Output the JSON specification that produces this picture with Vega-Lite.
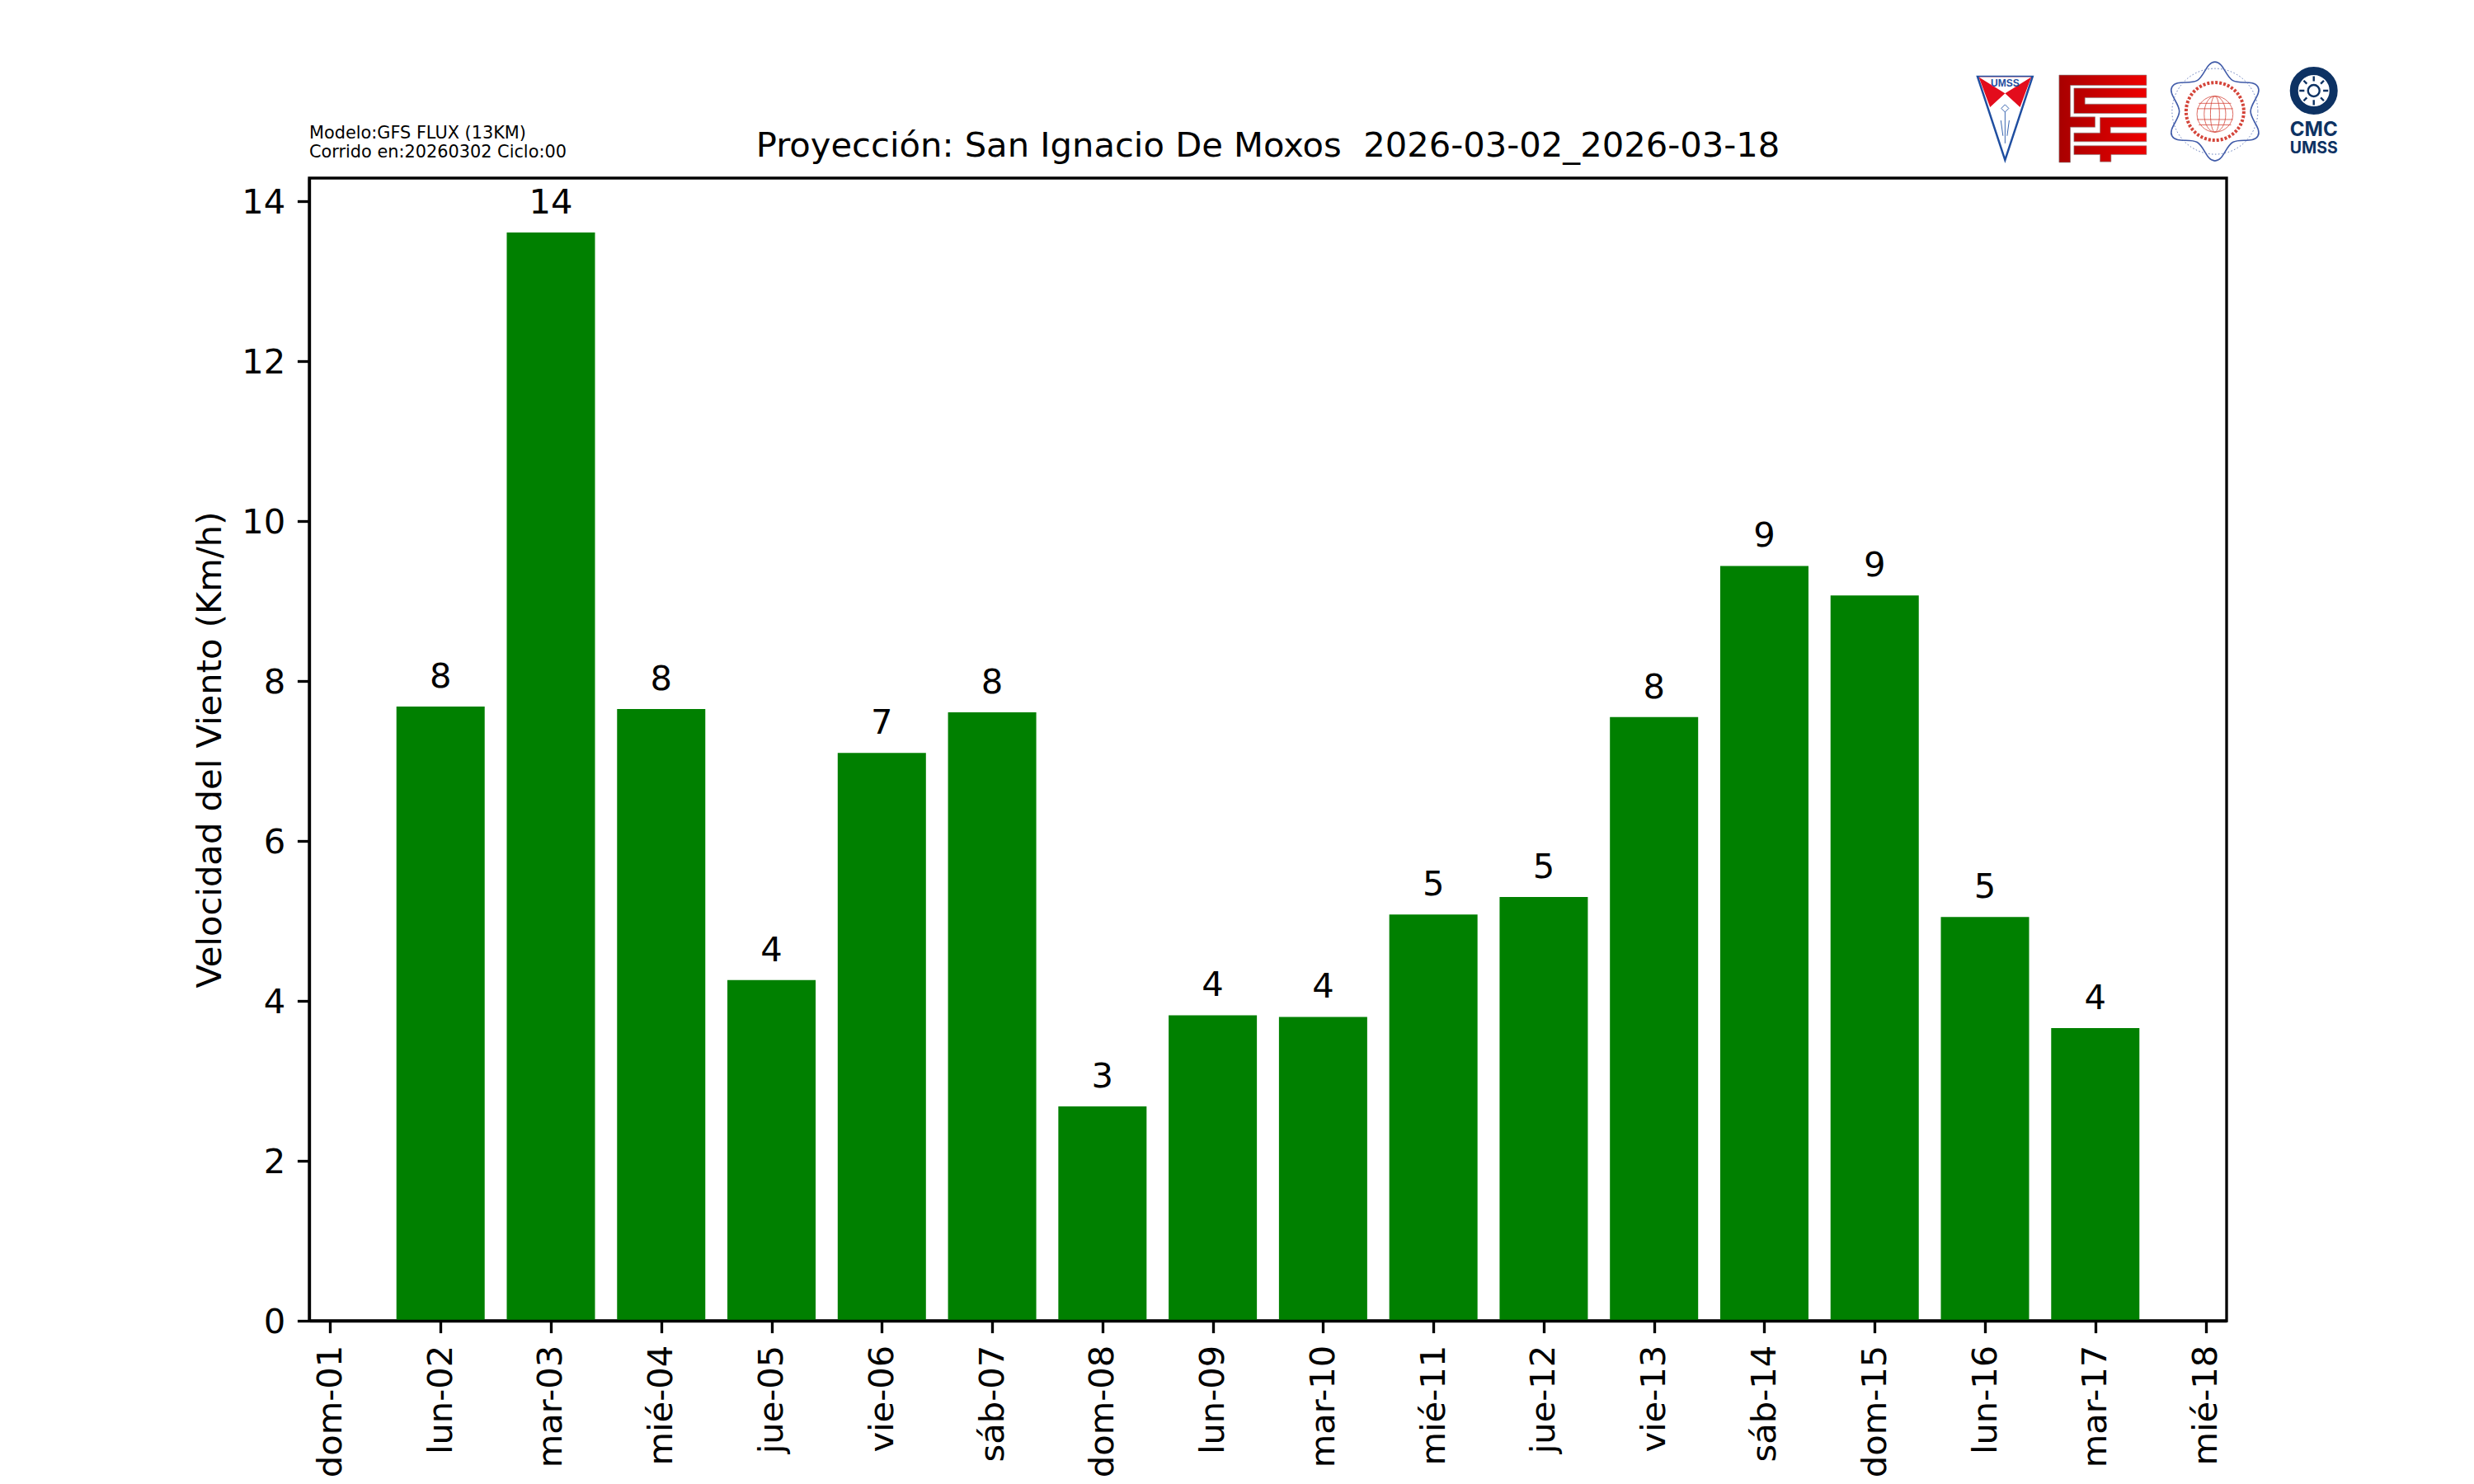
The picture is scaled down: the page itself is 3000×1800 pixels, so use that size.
{
"$schema":"https://vega.github.io/schema/vega-lite/v6.json",
"width":2325,"height":1386,
"autosize":{"type":"none"},
"padding":{"left":375,"top":216,"right":300,"bottom":198},
"background":"white",
"title":{"text":"Proyección: San Ignacio De Moxos\u00a0 2026-03-02_2026-03-18","font":"DejaVu Sans","fontSize":41.67,"fontWeight":"normal","color":"black","anchor":"middle","frame":"group","offset":0,"dy":166,"baseline":"alphabetic"},
"config":{"view":{"stroke":"black","strokeWidth":3.33},"font":"DejaVu Sans"},
"data":{"values":[
{"fecha":"2026-03-02T00:00:00Z","velocidad":7.68},
{"fecha":"2026-03-03T00:00:00Z","velocidad":13.61},
{"fecha":"2026-03-04T00:00:00Z","velocidad":7.65},
{"fecha":"2026-03-05T00:00:00Z","velocidad":4.26},
{"fecha":"2026-03-06T00:00:00Z","velocidad":7.10},
{"fecha":"2026-03-07T00:00:00Z","velocidad":7.61},
{"fecha":"2026-03-08T00:00:00Z","velocidad":2.68},
{"fecha":"2026-03-09T00:00:00Z","velocidad":3.82},
{"fecha":"2026-03-10T00:00:00Z","velocidad":3.80},
{"fecha":"2026-03-11T00:00:00Z","velocidad":5.08},
{"fecha":"2026-03-12T00:00:00Z","velocidad":5.30},
{"fecha":"2026-03-13T00:00:00Z","velocidad":7.55},
{"fecha":"2026-03-14T00:00:00Z","velocidad":9.44},
{"fecha":"2026-03-15T00:00:00Z","velocidad":9.07},
{"fecha":"2026-03-16T00:00:00Z","velocidad":5.05},
{"fecha":"2026-03-17T00:00:00Z","velocidad":3.66}
]},
"layer":[
{"mark":{"type":"bar","width":107,"color":"#008000"},
 "encoding":{
  "x":{"field":"fecha","type":"temporal","title":null,
   "scale":{"type":"utc","domain":[{"year":2026,"month":2,"date":28,"hours":19,"minutes":26,"utc":true},{"year":2026,"month":3,"date":18,"hours":4,"minutes":34,"utc":true}],"nice":false,"padding":0},
   "axis":{"tickCount":{"interval":"day","step":1},"grid":false,"labelAngle":270,"labelAlign":"right","labelBaseline":"middle","labelFont":"DejaVu Sans","labelFontSize":41.67,"labelColor":"black","labelPadding":14.6,"labelOverlap":false,"labelFlush":false,"labelBound":false,"tickSize":14.6,"tickWidth":3.33,"tickColor":"black","domainColor":"black","domainWidth":3.33,"zindex":1,
    "labelExpr":"['dom','lun','mar','mié','jue','vie','sáb'][utcday(datum.value)]+'-'+utcFormat(datum.value,'%d')"}},
  "y":{"field":"velocidad","type":"quantitative","title":"Velocidad del Viento (Km/h)",
   "scale":{"domain":[0,14.29],"nice":false,"zero":true},
   "axis":{"values":[0,2,4,6,8,10,12,14],"format":"d","grid":false,"labelFont":"DejaVu Sans","labelFontSize":41.67,"labelColor":"black","labelPadding":14.6,"labelOffset":1.5,"tickSize":14.6,"tickWidth":3.33,"tickColor":"black","domainColor":"black","domainWidth":3.33,"zindex":1,"titleFont":"DejaVu Sans","titleFontSize":41.67,"titleFontWeight":"normal","titleColor":"black","titlePadding":16}}
 }},
{"mark":{"type":"text","font":"DejaVu Sans","fontSize":41.67,"color":"black","baseline":"alphabetic","align":"center","dy":-23},
 "encoding":{"x":{"field":"fecha","type":"temporal"},"y":{"field":"velocidad","type":"quantitative"},"text":{"field":"velocidad","type":"quantitative","format":".0f"}}},
{"data":{"values":[{"nota":"Modelo:GFS FLUX (13KM)"}]},
 "mark":{"type":"text","font":"DejaVu Sans","fontSize":20.83,"color":"black","align":"left","baseline":"alphabetic"},
 "encoding":{"x":{"datum":{"year":2026,"month":2,"date":28,"hours":19,"minutes":26,"utc":true},"type":"temporal"},"y":{"datum":14.784,"type":"quantitative"},"text":{"field":"nota"}}},
{"data":{"values":[{"nota":"Corrido en:20260302 Ciclo:00"}]},
 "mark":{"type":"text","font":"DejaVu Sans","fontSize":20.83,"color":"black","align":"left","baseline":"alphabetic"},
 "encoding":{"x":{"datum":{"year":2026,"month":2,"date":28,"hours":19,"minutes":26,"utc":true},"type":"temporal"},"y":{"datum":14.547,"type":"quantitative"},"text":{"field":"nota"}}},
{"data":{"values":[{"logo":"UMSS"}]},
 "mark":{"type":"point","shape":"M-.66,-1L.66,-1L0,1Z","size":10201,"fill":"white","stroke":"#1f4ea0","strokeWidth":2.5,"opacity":1},
 "encoding":{"x":{"datum":{"year":2026,"month":3,"date":16,"hours":4,"minutes":22,"utc":true},"type":"temporal"},"y":{"datum":15.037,"type":"quantitative"}}},
{"data":{"values":[{"logo":"UMSS"}]},
 "mark":{"type":"point","shape":"M-.63,-.99L.63,-.99L.36,-.27L0,-.6L-.36,-.27Z","size":10201,"fill":"#e30c1c","strokeWidth":0,"opacity":1},
 "encoding":{"x":{"datum":{"year":2026,"month":3,"date":16,"hours":4,"minutes":22,"utc":true},"type":"temporal"},"y":{"datum":15.037,"type":"quantitative"}}},
{"data":{"values":[{"logo":"UMSS"}]},
 "mark":{"type":"point","shape":"M-.63,-.99L.63,-.99L0,-.6Z","size":10201,"fill":"white","strokeWidth":0,"opacity":1},
 "encoding":{"x":{"datum":{"year":2026,"month":3,"date":16,"hours":4,"minutes":22,"utc":true},"type":"temporal"},"y":{"datum":15.037,"type":"quantitative"}}},
{"data":{"values":[{"logo":"UMSS"}]},
 "mark":{"type":"point","shape":"M0,-.33L.09,-.24L0,-.15L-.09,-.24ZM0,-.15L0,.6M-.1,.05L-.05,.42M.1,.05L.05,.42","size":10201,"fill":"transparent","stroke":"#3a66b0","strokeWidth":1,"opacity":1},
 "encoding":{"x":{"datum":{"year":2026,"month":3,"date":16,"hours":4,"minutes":22,"utc":true},"type":"temporal"},"y":{"datum":15.037,"type":"quantitative"}}},
{"data":{"values":[{"logo":"UMSS"}]},
 "mark":{"type":"text","font":"Liberation Sans","fontWeight":"bold","fontSize":12,"color":"#1f4ea0","align":"center","baseline":"middle"},
 "encoding":{"x":{"datum":{"year":2026,"month":3,"date":16,"hours":4,"minutes":22,"utc":true},"type":"temporal"},"y":{"datum":15.479,"type":"quantitative"},"text":{"field":"logo"}}},
{"data":{"values":[{"logo":"FCyT"}]},
 "mark":{"type":"point","shape":"M-1,-1H1V-.764H-.742V-.041H-.176V.192H-.742V1H-1ZM-.66,-.701H1V-.481H-.409V-.336H1V-.123H-.66ZM-.063,-.028H1V.192H.176V.324H1V.525H-.66V.324H-.063ZM-.66,.619H1V.821H.189V.984H-.063V.821H-.66Z","size":11236,"fill":{"x1":0,"x2":1,"y1":0,"y2":0,"gradient":"linear","stops":[{"offset":0,"color":"#a80000"},{"offset":1,"color":"#ee0000"}]},"stroke":"#888888","strokeWidth":0.6,"opacity":1},
 "encoding":{"x":{"datum":{"year":2026,"month":3,"date":17,"hours":1,"minutes":38,"utc":true},"type":"temporal"},"y":{"datum":15.032,"type":"quantitative"}}},
{"data":{"values":[{"logo":"Departamento de Física"}]},
 "mark":{"type":"point","shape":"M0,-1C.17,-1 .213,-.709 .36,-.624C.507,-.539 .781,-.647 .866,-.5C.951,-.353 .72,-.17 .72,0C.72,.17 .951,.353 .866,.5C.781,.647 .507,.539 .36,.624C.213,.709 .17,1 0,1C-.17,1 -.213,.709 -.36,.624C-.507,.539 -.781,.647 -.866,.5C-.951,.353 -.72,.17 -.72,0C-.72,-.17 -.951,-.353 -.866,-.5C-.781,-.647 -.507,-.539 -.36,-.624C-.213,-.709 -.17,-1 0,-1Z","size":14400,"fill":"white","stroke":"#3f5aa8","strokeWidth":1.6,"opacity":1},
 "encoding":{"x":{"datum":{"year":2026,"month":3,"date":18,"hours":2,"minutes":2,"utc":true},"type":"temporal"},"y":{"datum":15.124,"type":"quantitative"}}},
{"data":{"values":[{"logo":"Departamento de Física"}]},
 "mark":{"type":"point","shape":"circle","size":10816,"fill":"transparent","stroke":"#5a72b8","strokeWidth":1,"strokeDash":[1.5,2.5],"opacity":1},
 "encoding":{"x":{"datum":{"year":2026,"month":3,"date":18,"hours":2,"minutes":2,"utc":true},"type":"temporal"},"y":{"datum":15.124,"type":"quantitative"}}},
{"data":{"values":[{"logo":"Departamento de Física"}]},
 "mark":{"type":"point","shape":"circle","size":4900,"fill":"transparent","stroke":"#d4453a","strokeWidth":4,"strokeDash":[3,2],"opacity":1},
 "encoding":{"x":{"datum":{"year":2026,"month":3,"date":18,"hours":2,"minutes":2,"utc":true},"type":"temporal"},"y":{"datum":15.124,"type":"quantitative"}}},
{"data":{"values":[{"logo":"Departamento de Física"}]},
 "mark":{"type":"point","shape":"M-1,0A1,1 0 1 1 1,0A1,1 0 1 1 -1,0ZM-.6,0A.6,1 0 1 1 .6,0A.6,1 0 1 1 -.6,0ZM-.25,0A.25,1 0 1 1 .25,0A.25,1 0 1 1 -.25,0ZM-1,-.3H1M-1,.3H1M-.9,-.6H.9M-.9,.6H.9","size":1900,"fill":"transparent","stroke":"#d4453a","strokeWidth":0.8,"opacity":1},
 "encoding":{"x":{"datum":{"year":2026,"month":3,"date":18,"hours":2,"minutes":2,"utc":true},"type":"temporal"},"y":{"datum":15.09,"type":"quantitative"}}},
{"data":{"values":[{"logo":"CMC"}]},
 "mark":{"type":"point","shape":"circle","size":2304,"fill":"white","stroke":"#0d3263","strokeWidth":10,"opacity":1},
 "encoding":{"x":{"datum":{"year":2026,"month":3,"date":18,"hours":23,"minutes":32,"utc":true},"type":"temporal"},"y":{"datum":15.383,"type":"quantitative"}}},
{"data":{"values":[{"logo":"CMC"}]},
 "mark":{"type":"point","shape":"M0,-1V-.65M0,1V.65M-1,0H-.65M1,0H.65M-.7,-.7L-.48,-.48M.7,-.7L.48,-.48M-.7,.7L-.48,.48M.7,.7L.48,.48M-.4,0A.4,.4 0 1 1 .4,0A.4,.4 0 1 1 -.4,0Z","size":1225,"fill":"transparent","stroke":"#0d3263","strokeWidth":2.4,"opacity":1},
 "encoding":{"x":{"datum":{"year":2026,"month":3,"date":18,"hours":23,"minutes":32,"utc":true},"type":"temporal"},"y":{"datum":15.383,"type":"quantitative"}}},
{"data":{"values":[{"logo":"CMC"}]},
 "mark":{"type":"text","font":"Inter","fontWeight":"bold","fontSize":24,"color":"#0d3263","align":"center","baseline":"alphabetic"},
 "encoding":{"x":{"datum":{"year":2026,"month":3,"date":18,"hours":23,"minutes":32,"utc":true},"type":"temporal"},"y":{"datum":14.82,"type":"quantitative"},"text":{"field":"logo"}}},
{"data":{"values":[{"logo":"UMSS"}]},
 "mark":{"type":"text","font":"Inter","fontWeight":"bold","fontSize":19.5,"color":"#0d3263","align":"center","baseline":"alphabetic"},
 "encoding":{"x":{"datum":{"year":2026,"month":3,"date":18,"hours":23,"minutes":32,"utc":true},"type":"temporal"},"y":{"datum":14.6,"type":"quantitative"},"text":{"field":"logo"}}}
]
}
